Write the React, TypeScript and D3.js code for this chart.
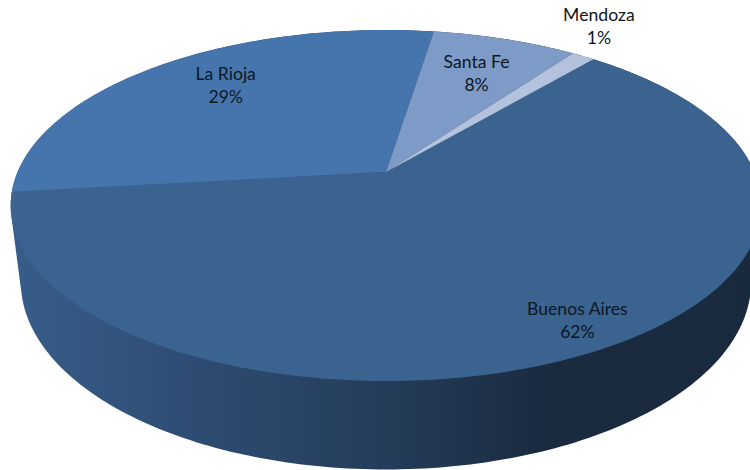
import React from 'react';
import * as d3 from 'd3';

const categories = ['Buenos Aires', 'La Rioja', 'Santa Fe', 'Mendoza'];
const values = [62, 29.3, 7.5, 1.2];
const sliceColors = ['#3a6390', '#4675ae', '#7e9ac6', '#b3c3dd'];
const labelRadius = [0.874, 0.743, 0.708, 1.238];
const labelShift = [-2.4, 3.4, 0.6, -4.1];

const width = 750;
const height = 470;
const deg = Math.PI / 180;
const startAngle = 40.2 * deg;

// perspective of the pie disc, u/v on the unit circle
const persp = 0.191;
const rx = 368.4;
const ry = 169.1;

const project = (angle: number, r: number, cx: number, cy: number, sx: number, sy: number): [number, number] => {
  const u = Math.sin(angle) * r;
  const v = -Math.cos(angle) * r;
  const w = 1 - persp * v;
  return [cx + (sx * rx * u) / w, cy + (sy * ry * v) / w];
};

const topRim = (a: number, r = 1) => project(a, r, 386, 172, 1, 1);
const bottomRim = (a: number) => project(a, 1, 386, 246, 0.973, 1.069);

const line = d3.line();

const App = () => {
  const pie = d3.pie<number>().sort(null).startAngle(startAngle).endAngle(startAngle + 2 * Math.PI);
  const arcs = pie(values);
  const total = d3.sum(values);
  const pct = d3.format('.0%');

  // side wall is the hull of both rims, the top face is painted over it
  const steps = d3.range(0, 360, 1).map(d => d * deg);
  const hull = d3.polygonHull([...steps.map(a => topRim(a)), ...steps.map(a => bottomRim(a))]);
  const wall = line(hull as [number, number][]) + 'Z';

  const slicePath = (a0: number, a1: number) => {
    const n = Math.ceil((a1 - a0) / deg);
    const pts = d3.range(n + 1).map(i => topRim(a0 + ((a1 - a0) * i) / n));
    return line([topRim(0, 0), ...pts]) + 'Z';
  };

  return (
    <svg
      width={width}
      height={height}
      viewBox={`0 0 ${width} ${height}`}
      style={{ position: 'fixed', top: 0, left: 0, display: 'block', background: '#fff' }}
    >
      <defs>
        <linearGradient id="wallFill" gradientUnits="userSpaceOnUse" x1={10} x2={750} y1={0} y2={0}>
          <stop offset="0" stopColor="#385d8a" />
          <stop offset="0.25" stopColor="#2e4c72" />
          <stop offset="0.5" stopColor="#253d5b" />
          <stop offset="0.72" stopColor="#1a2b40" />
          <stop offset="1" stopColor="#1a2a3e" />
        </linearGradient>
      </defs>
      <path d={wall} fill="url(#wallFill)" />
      {arcs.map((d, i) => (
        <path key={categories[i]} d={slicePath(d.startAngle, d.endAngle)} fill={sliceColors[i]} />
      ))}
      {arcs.map((d, i) => {
        const mid = (d.startAngle + d.endAngle) / 2 + labelShift[i] * deg;
        const [x, y] = topRim(mid, labelRadius[i]);
        return (
          <text
            key={categories[i]}
            x={x}
            y={y}
            textAnchor="middle"
            fontFamily="Lato, 'Open Sans', sans-serif"
            fontSize={17.6}
            fill="#0e1722"
          >
            <tspan x={x} dy={-6}>{categories[i]}</tspan>
            <tspan x={x} dy={23.5}>{pct(d.value / total)}</tspan>
          </text>
        );
      })}
    </svg>
  );
};

export default App;
